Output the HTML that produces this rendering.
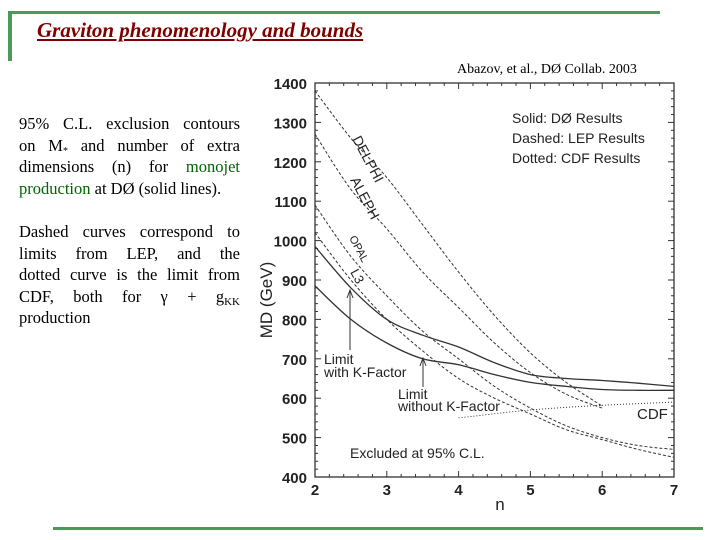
<!DOCTYPE html>
<html><head><meta charset="utf-8"><style>
body{margin:0;width:720px;height:540px;background:#fff;position:relative;overflow:hidden;font-family:"Liberation Serif",serif}
.t{position:absolute;left:37px;top:18px;font-size:21px;font-style:italic;font-weight:bold;color:#800000;text-decoration:underline}
.p{position:absolute;left:19px;width:221px;font-size:16.5px;line-height:21.5px;color:#000}
.p div{text-align:justify;text-align-last:justify;white-space:nowrap;height:21.5px}
.p div.l{text-align-last:left}
.p sub{line-height:0;vertical-align:-3px}
.g{color:#006600}
</style></head><body>
<div style="position:absolute;left:8px;top:11px;width:652px;height:3px;background:#4a9a5a"></div>
<div style="position:absolute;left:8px;top:11px;width:4px;height:50px;background:#4a9a5a"></div>
<div style="position:absolute;left:53px;top:527px;width:650px;height:3px;background:#4a9a5a"></div>
<div class="t">Graviton phenomenology and bounds</div>
<div style="position:absolute;left:457px;top:62px;font-size:14px">Abazov, et al., DØ Collab. 2003</div>
<div class="p" style="top:113px"><div>95% C.L. exclusion contours</div><div>on M<sub style="font-size:10px">*</sub> and number of extra</div><div>dimensions (n) for <span class="g">monojet</span></div><div class="l"><span class="g">production</span> at DØ (solid lines).</div></div>
<div class="p" style="top:221px"><div>Dashed curves correspond to</div><div>limits from LEP, and the</div><div>dotted curve is the limit from</div><div>CDF, both for γ + g<sub style="font-size:11px">KK</sub></div><div class="l">production</div></div>
<svg id="c" width="720" height="540" style="position:absolute;left:0;top:0" font-family="Liberation Sans, sans-serif"></svg>
<script>
const nVals=[2,2.5,3,3.5,4,4.5,5,5.5,6,6.5,7];
const delphi=[1380,1260,1160,1040,920,810,715,640,580];
const aleph=[1270,1130,1030,920,830,740,665,610,575];
const opal=[1090,960,860,770,700,630,575,530,500,480,470];
const l3=[1020,900,800,720,650,600,560,520,495,470,450];
const withK=[985,880,800,760,730,690,660,650,645,638,630];
const withoutK=[885,800,740,700,685,660,640,630,622,620,620];
const cdfN=[4,5,6,7];
const cdf=[550,570,582,590];
const xTicks=[2,3,4,5,6,7];
const yTicks=[400,500,600,700,800,900,1000,1100,1200,1300,1400];
const X0=315,X1=674,Y0=477,Y1=83;
const sx=n=>X0+(n-2)/5*(X1-X0);
const sy=v=>Y0-(v-400)/1000*(Y0-Y1);
const svg=document.getElementById('c');const NS='http://www.w3.org/2000/svg';
function mk(t,a,p){const e=document.createElementNS(NS,t);for(const k in a)e.setAttribute(k,a[k]);(p||svg).appendChild(e);return e;}
const frame=mk('rect',{x:X0,y:Y1,width:X1-X0,height:Y0-Y1,fill:'none',stroke:'#333','stroke-width':1.3});


yTicks.forEach(v=>{
 for(let k=0;k<5&&v+k*20<=1400;k++){const y=sy(v+k*20);const L=k?3:6;
  mk('line',{x1:X0,x2:X0+L,y1:y,y2:y,stroke:'#333'});mk('line',{x1:X1,x2:X1-L,y1:y,y2:y,stroke:'#333'});}
 const t=mk('text',{x:X0-8,y:sy(v)+6,'text-anchor':'end','font-size':15,'font-weight':'bold',fill:'#222'});t.textContent=v;
 
 
});
xTicks.forEach(n=>{
 for(let k=0;k<5&&n+k*0.2<=7;k++){const x=sx(n+k*0.2);const L=k?3:6;
  mk('line',{x1:x,x2:x,y1:Y0,y2:Y0-L,stroke:'#333'});mk('line',{x1:x,x2:x,y1:Y1,y2:Y1+L,stroke:'#333'});}
 const t=mk('text',{x:sx(n),y:Y0+18,'text-anchor':'middle','font-size':15,'font-weight':'bold',fill:'#222'});t.textContent=n;
 
 
});
const xt=mk('text',{x:500,y:510,'text-anchor':'middle','font-size':17,fill:'#222'});xt.textContent='n';


const yt=mk('text',{x:0,y:0,'text-anchor':'middle','font-size':17,transform:'translate(272,300) rotate(-90)',fill:'#222'});yt.textContent='MD (GeV)';


function curve(xs,vs,dash,w,name){
 const pts=vs.map((v,i)=>[sx(xs[i]),sy(v)]);
 let d='M'+pts[0][0].toFixed(1)+','+pts[0][1].toFixed(1);
 for(let i=0;i<pts.length-1;i++){const p0=pts[i-1]||pts[i],p1=pts[i],p2=pts[i+1],p3=pts[i+2]||p2;
  const c1=[p1[0]+(p2[0]-p0[0])/6,p1[1]+(p2[1]-p0[1])/6],c2=[p2[0]-(p3[0]-p1[0])/6,p2[1]-(p3[1]-p1[1])/6];
  d+=`C${c1[0].toFixed(1)},${c1[1].toFixed(1)} ${c2[0].toFixed(1)},${c2[1].toFixed(1)} ${p2[0].toFixed(1)},${p2[1].toFixed(1)}`;}
 const p=mk('path',{d:d,fill:'none',stroke:'#333','stroke-width':w,'stroke-dasharray':dash});
 
 
}
curve(nVals,delphi,'3,2',1,'delphi-curve');
curve(nVals,aleph,'3,2',1,'aleph-curve');
curve(nVals,opal,'3,2',1,'opal-curve');
curve(nVals,l3,'3,2',1,'l3-curve');
curve(nVals,withK,'',1.3,'limit-with-k-factor-curve');
curve(nVals,withoutK,'',1.3,'limit-without-k-factor-curve');
curve(cdfN,cdf,'1,2',1,'cdf-curve');
function lab(txt,x,y,rot,fs,name){const t=mk('text',{x:x,y:y,'font-size':fs||14,fill:'#222',transform:rot?`rotate(${rot} ${x} ${y})`:''});t.textContent=txt;
 
 }
lab('DELPHI',352,139,62,14,'delphi-label');lab('ALEPH',350,180,62,14,'aleph-label');
lab('OPAL',349,238,62,11,'opal-label');lab('L3',350,272,62,13,'l3-label');
lab('Solid: DØ Results',512,123,0,14,'legend-solid');lab('Dashed: LEP Results',512,143,0,14,'legend-dashed');lab('Dotted: CDF Results',512,163,0,14,'legend-dotted');
lab('Limit',324,364,0,14,'label-with-k-1');lab('with K-Factor',324,377,0,14,'label-with-k-2');
lab('Limit',398,399,0,14,'label-without-k-1');lab('without K-Factor',398,411,0,14,'label-without-k-2');
lab('CDF',637,419,0,15,'cdf-label');lab('Excluded at 95% C.L.',350,458,0,14,'excluded-label');
mk('line',{x1:350,x2:350,y1:350,y2:291,stroke:'#333'});mk('path',{d:'M347,298 L350,290 L353,298',fill:'none',stroke:'#333'});
mk('line',{x1:423,x2:423,y1:387,y2:359,stroke:'#333'});mk('path',{d:'M420,366 L423,358 L426,366',fill:'none',stroke:'#333'});
</script>
</body></html>
